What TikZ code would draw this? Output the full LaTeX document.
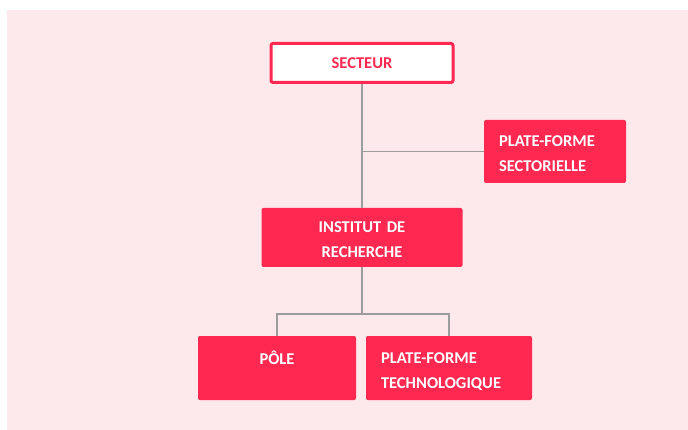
\documentclass[tikz,border=0pt]{standalone}
\usepackage{fontspec}
\setmainfont{Carlito}
\usepackage{xcolor}

\begin{document}
\begin{tikzpicture}[x=1pt,y=-1pt,
  boxfont/.style={font=\bfseries\fontsize{16.5}{25}\selectfont},
  whitebox/.style={boxfont,fill=white,draw=rouge,line width=3pt,text=rouge,rounded corners=2pt},
  redbox/.style={boxfont,fill=rouge,rounded corners=2pt,text=white,inner sep=0pt,text depth=20pt},
  linkline/.style={draw=gris,line width=1.5pt}]
\definecolor{rose}{HTML}{FDE9EC}
\definecolor{rouge}{HTML}{FF2850}
\definecolor{gris}{HTML}{9C9C9C}
\useasboundingbox (0,0) rectangle (688,430);
\fill[rose] (7,10) rectangle (688,430);
% boxes
\node[whitebox,minimum width=182pt,minimum height=39pt] (secteur) at (362,63) {SECTEUR};
\node[redbox,minimum width=142pt,minimum height=63pt,text width=112pt,align=left]
  (sectorielle) at (555,151.5) {PLATE-FORME\\SECTORIELLE};
\node[redbox,minimum width=201pt,minimum height=59pt,text width=201pt,align=center]
  (institut) at (362,237.5) {INSTITUT DE\\RECHERCHE};
\node[redbox,minimum width=158pt,minimum height=64pt] (pole) at (277,368) {PÔLE};
\node[redbox,minimum width=166pt,minimum height=64pt,text width=136pt,align=left]
  (technologique) at (449,368) {PLATE-FORME\\TECHNOLOGIQUE};
% links
\coordinate (branche) at (secteur |- sectorielle);
\coordinate (fourche) at (362,314);
\draw[linkline] (secteur) -- (institut);
\draw[linkline] (branche) -- (sectorielle);
\draw[linkline] (institut) -- (fourche) -| (pole);
\draw[linkline] (fourche) -| (technologique);
\end{tikzpicture}
\end{document}
